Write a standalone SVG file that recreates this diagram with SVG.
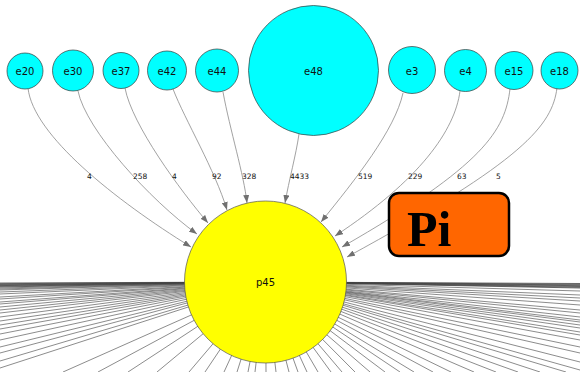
<svg xmlns="http://www.w3.org/2000/svg" width="580" height="372" viewBox="0 0 580 372">
  <defs>
    <marker id="arrow" markerUnits="userSpaceOnUse" markerWidth="8" markerHeight="6" refX="8" refY="3" orient="auto">
      <path d="M0,0 L8,3 L0,6 z" fill="#707070"/>
    </marker>
    <style>
      .edge { fill: none; stroke: #8a8a8a; stroke-width: 0.8; marker-end: url(#arrow); }
      .fan line { stroke: #4e4e4e; stroke-width: 0.65; }
      .fan .band { stroke: #404040; stroke-width: 0.75; }
      .elabel { font-family: "DejaVu Sans", sans-serif; font-size: 7.5px; fill: #111; }
      .cyan { fill: #00ffff; stroke: #3a3a3a; stroke-width: 0.7; }
      .nlabel { font-family: "DejaVu Sans", sans-serif; font-size: 10px; fill: #111; text-anchor: middle; }
    </style>
  </defs>
  <rect width="580" height="372" fill="#ffffff"/>

  <g id="connectors">
    <!-- outgoing edges of p45 running off the canvas -->
    <g class="fan">
      <line class="band" x1="265.5" y1="282" x2="0" y2="283"/>
      <line class="band" x1="265.5" y1="282" x2="0" y2="283.7"/>
      <line class="band" x1="265.5" y1="282" x2="0" y2="284.4"/>
      <line class="band" x1="265.5" y1="282" x2="0" y2="285"/>
      <line class="band" x1="265.5" y1="282" x2="0" y2="285.6"/>
      <line class="band" x1="265.5" y1="282" x2="0" y2="286.3"/>
      <line class="band" x1="265.5" y1="282" x2="0" y2="287"/>
      <line x1="265.5" y1="282" x2="0" y2="288"/>
      <line x1="265.5" y1="282" x2="0" y2="289"/>
      <line x1="265.5" y1="282" x2="0" y2="290"/>
      <line x1="265.5" y1="282" x2="0" y2="292"/>
      <line x1="265.5" y1="282" x2="0" y2="294"/>
      <line x1="265.5" y1="282" x2="0" y2="297"/>
      <line x1="265.5" y1="282" x2="0" y2="299"/>
      <line x1="265.5" y1="282" x2="0" y2="302"/>
      <line x1="265.5" y1="282" x2="0" y2="304"/>
      <line x1="265.5" y1="282" x2="0" y2="307"/>
      <line x1="265.5" y1="282" x2="0" y2="310"/>
      <line x1="265.5" y1="282" x2="0" y2="313"/>
      <line x1="265.5" y1="282" x2="0" y2="317"/>
      <line x1="265.5" y1="282" x2="0" y2="321"/>
      <line x1="265.5" y1="282" x2="0" y2="325"/>
      <line x1="265.5" y1="282" x2="0" y2="329"/>
      <line x1="265.5" y1="282" x2="0" y2="334"/>
      <line x1="265.5" y1="282" x2="0" y2="340"/>
      <line x1="265.5" y1="282" x2="0" y2="347"/>
      <line x1="265.5" y1="282" x2="0" y2="353"/>
      <line x1="265.5" y1="282" x2="0" y2="361"/>
      <line x1="265.5" y1="282" x2="0" y2="368"/>

      <line x1="265.5" y1="282" x2="63" y2="372"/>
      <line x1="265.5" y1="282" x2="98" y2="372"/>
      <line x1="265.5" y1="282" x2="128" y2="372"/>
      <line x1="265.5" y1="282" x2="157" y2="372"/>
      <line x1="265.5" y1="282" x2="189" y2="372"/>
      <line x1="265.5" y1="282" x2="205" y2="372"/>
      <line x1="265.5" y1="282" x2="224" y2="372"/>
      <line x1="265.5" y1="282" x2="237" y2="372"/>
      <line x1="265.5" y1="282" x2="248" y2="372"/>
      <line x1="265.5" y1="282" x2="255" y2="372"/>
      <line x1="265.5" y1="282" x2="266" y2="372"/>
      <line x1="265.5" y1="282" x2="276" y2="372"/>
      <line x1="265.5" y1="282" x2="289" y2="372"/>
      <line x1="265.5" y1="282" x2="298" y2="372"/>
      <line x1="265.5" y1="282" x2="307" y2="372"/>
      <line x1="265.5" y1="282" x2="318" y2="372"/>
      <line x1="265.5" y1="282" x2="331" y2="372"/>
      <line x1="265.5" y1="282" x2="342" y2="372"/>
      <line x1="265.5" y1="282" x2="355" y2="372"/>
      <line x1="265.5" y1="282" x2="370" y2="372"/>
      <line x1="265.5" y1="282" x2="385" y2="372"/>
      <line x1="265.5" y1="282" x2="400" y2="372"/>
      <line x1="265.5" y1="282" x2="414" y2="372"/>
      <line x1="265.5" y1="282" x2="433" y2="372"/>
      <line x1="265.5" y1="282" x2="451" y2="372"/>
      <line x1="265.5" y1="282" x2="474" y2="372"/>
      <line x1="265.5" y1="282" x2="496" y2="372"/>
      <line x1="265.5" y1="282" x2="518" y2="372"/>
      <line x1="265.5" y1="282" x2="540" y2="372"/>
      <line x1="265.5" y1="282" x2="566" y2="372"/>

      <line class="band" x1="265.5" y1="282" x2="580" y2="283.5"/>
      <line class="band" x1="265.5" y1="282" x2="580" y2="284.3"/>
      <line class="band" x1="265.5" y1="282" x2="580" y2="285"/>
      <line class="band" x1="265.5" y1="282" x2="580" y2="285.7"/>
      <line class="band" x1="265.5" y1="282" x2="580" y2="286.5"/>
      <line class="band" x1="265.5" y1="282" x2="580" y2="287.3"/>
      <line class="band" x1="265.5" y1="282" x2="580" y2="288"/>
      <line x1="265.5" y1="282" x2="580" y2="291"/>
      <line x1="265.5" y1="282" x2="580" y2="295"/>
      <line x1="265.5" y1="282" x2="580" y2="298"/>
      <line x1="265.5" y1="282" x2="580" y2="301"/>
      <line x1="265.5" y1="282" x2="580" y2="305"/>
      <line x1="265.5" y1="282" x2="580" y2="310"/>
      <line x1="265.5" y1="282" x2="580" y2="313"/>
      <line x1="265.5" y1="282" x2="580" y2="317"/>
      <line x1="265.5" y1="282" x2="580" y2="320"/>
      <line x1="265.5" y1="282" x2="580" y2="322"/>
      <line x1="265.5" y1="282" x2="580" y2="325"/>
      <line x1="265.5" y1="282" x2="580" y2="328"/>
      <line x1="265.5" y1="282" x2="580" y2="332"/>
      <line x1="265.5" y1="282" x2="580" y2="335"/>
      <line x1="265.5" y1="282" x2="580" y2="340"/>
      <line x1="265.5" y1="282" x2="580" y2="347"/>
      <line x1="265.5" y1="282" x2="580" y2="353"/>
      <line x1="265.5" y1="282" x2="580" y2="362"/>
      <line x1="265.5" y1="282" x2="580" y2="370"/>
    </g>

    <!-- incoming edges into p45 -->
    <path class="edge" d="M28,88 C33,135 115,200 191,247"/>
    <path class="edge" d="M78,91 C86,130 150,200 197,234"/>
    <path class="edge" d="M125,88 C132,125 180,190 208,223"/>
    <path class="edge" d="M173,89 C185,120 215,170 227,210"/>
    <path class="edge" d="M223,92 C230,130 244,175 247,203"/>
    <path class="edge" d="M299,134 C296,155 289,180 285,203"/>
    <path class="edge" d="M403,93 C395,130 355,180 321,222"/>
    <path class="edge" d="M460,91 C455,130 420,180 335,236"/>
    <path class="edge" d="M510,89 C505,130 485,165 342,247"/>
    <path class="edge" d="M557,88 C552,125 525,160 347,257"/>

    <text class="elabel" x="87" y="179">4</text>
    <text class="elabel" x="133" y="179">258</text>
    <text class="elabel" x="172" y="179">4</text>
    <text class="elabel" x="212" y="179">92</text>
    <text class="elabel" x="242" y="179">328</text>
    <text class="elabel" x="290" y="179">4433</text>
    <text class="elabel" x="358" y="179">519</text>
    <text class="elabel" x="408" y="179">229</text>
    <text class="elabel" x="457" y="179">63</text>
    <text class="elabel" x="496" y="179">5</text>
  </g>

  <g id="e20"><circle class="cyan" cx="25" cy="71" r="18"/><text class="nlabel" x="25" y="74.5">e20</text></g>
  <g id="e30"><circle class="cyan" cx="73" cy="70.5" r="20.5"/><text class="nlabel" x="73" y="74.5">e30</text></g>
  <g id="e37"><circle class="cyan" cx="121" cy="70.5" r="18"/><text class="nlabel" x="121" y="74.5">e37</text></g>
  <g id="e42"><circle class="cyan" cx="167" cy="70.5" r="19.5"/><text class="nlabel" x="167" y="74.5">e42</text></g>
  <g id="e44"><circle class="cyan" cx="217" cy="70.5" r="21.5"/><text class="nlabel" x="217" y="74.5">e44</text></g>
  <g id="e48"><circle class="cyan" cx="313.5" cy="70.5" r="65"/><text class="nlabel" x="313.5" y="74.5">e48</text></g>
  <g id="e3"><circle class="cyan" cx="412" cy="70" r="23.5"/><text class="nlabel" x="412" y="74.5">e3</text></g>
  <g id="e4"><circle class="cyan" cx="465.5" cy="70.5" r="21"/><text class="nlabel" x="465.5" y="74.5">e4</text></g>
  <g id="e15"><circle class="cyan" cx="514" cy="70.5" r="19"/><text class="nlabel" x="514" y="74.5">e15</text></g>
  <g id="e18"><circle class="cyan" cx="559.5" cy="70.5" r="18.5"/><text class="nlabel" x="559.5" y="74.5">e18</text></g>

  <g id="p45">
    <circle cx="265.5" cy="282" r="81" fill="#ffff00" stroke="#555" stroke-width="0.7"/>
    <text class="nlabel" x="265.5" y="286">p45</text>
  </g>

  <g id="pi">
    <rect x="389" y="193" width="120" height="63" rx="10" ry="10" fill="#ff6600" stroke="#000" stroke-width="2.5"/>
    <text x="407" y="246" font-family="'Liberation Serif', 'Times New Roman', serif" font-weight="bold" font-size="50" fill="#000">Pi</text>
  </g>
</svg>
